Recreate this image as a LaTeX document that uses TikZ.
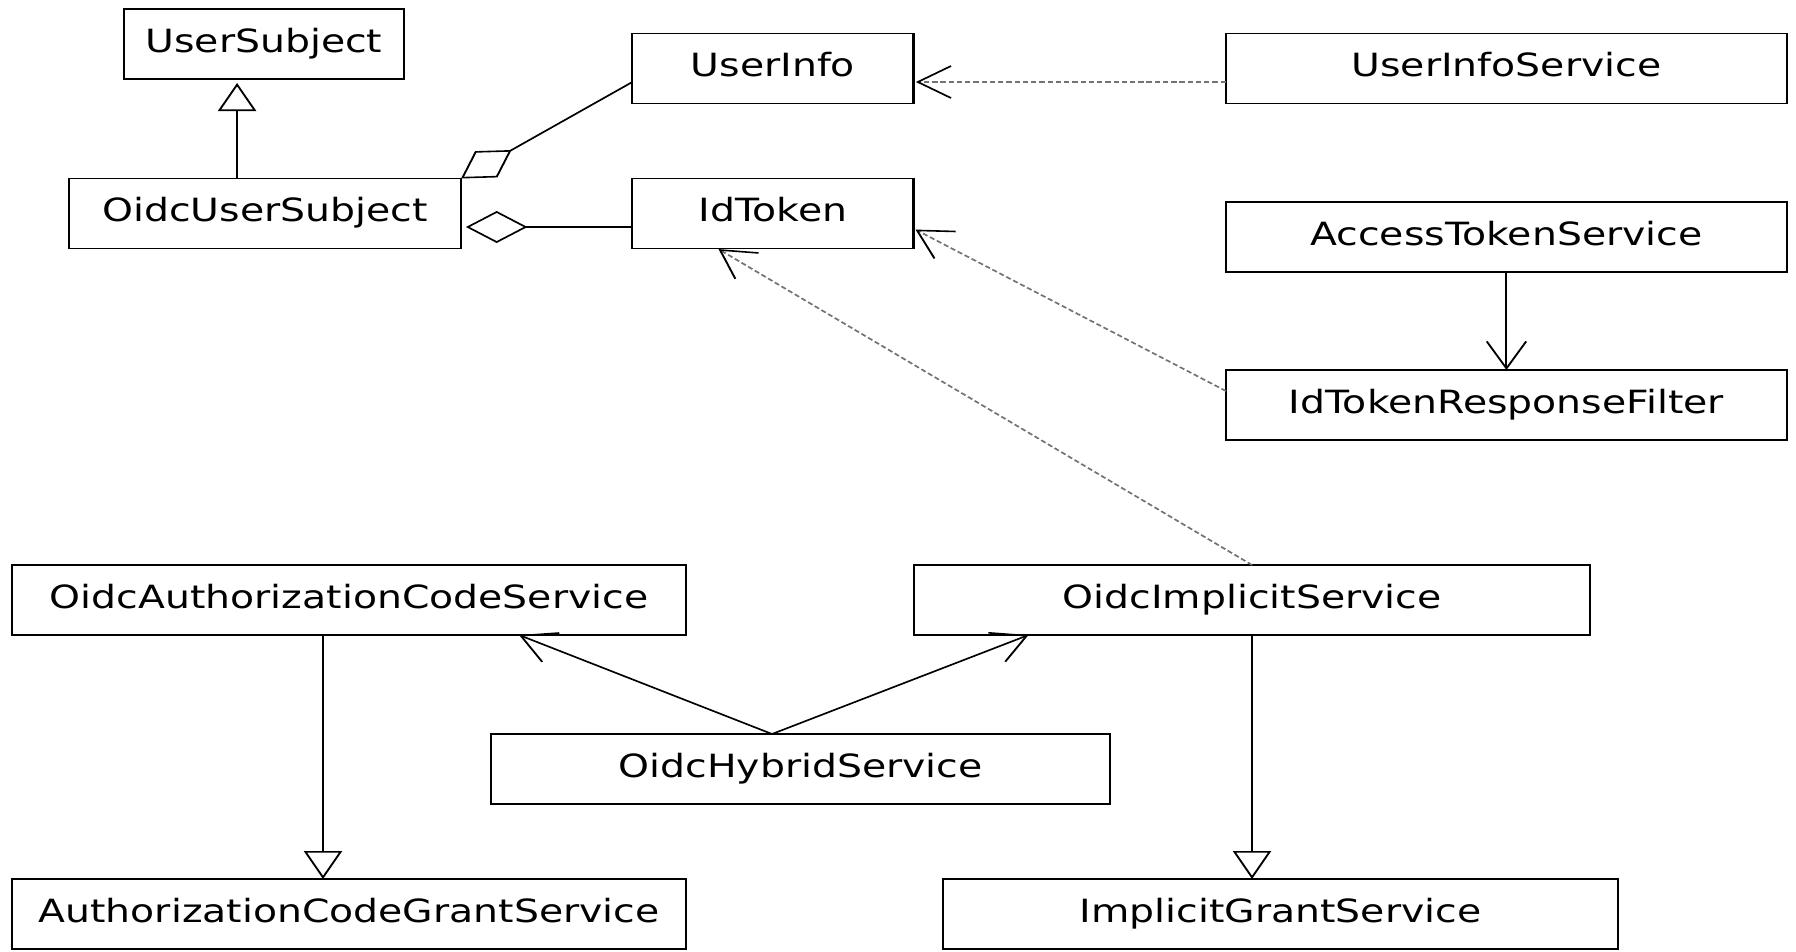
\documentclass[tikz,border=0pt]{standalone}
\usepackage{fontspec}
\setmainfont{DejaVu Sans}
\usetikzlibrary{arrows.meta}

\tikzset{
  cls/.style={draw, rectangle, line width=1.8pt, anchor=north west,
    minimum height=70pt, inner sep=0pt, outer sep=0pt,
    font=\fontsize{32}{38}\selectfont, text height=24.3pt, text depth=7.7pt},
  gen/.style={line width=1.6pt,
    -{Triangle[open, length=28pt, width=31pt, line width=1.6pt]}},
  assoc/.style={line width=1.6pt,
    -{Straight Barb[length=27pt, width=32pt, line width=1.6pt]}},
  dep/.style={line width=1.6pt, black!55, dash pattern=on 4.3pt off 2.4pt,
    -{Straight Barb[length=27pt, width=32pt, line width=1.6pt, color=black]}},
  agg/.style={line width=1.6pt,
    -{Diamond[open, length=50pt, width=32pt, line width=1.6pt]}},
}

\begin{document}
\begin{tikzpicture}[x=1pt, y=-1pt]
\useasboundingbox (0,0) rectangle (1796,951);
\begin{scope}[transform canvas={xscale=1.23}]
  % classes
  \node[cls, minimum width=227.6pt] (us)   at (100.8,9)   {UserSubject};
  \node[cls, minimum width=228.5pt] (ui)   at (514.1,33.5) {UserInfo};
  \node[cls, minimum width=456.1pt] (uis)  at (996.7,33.5) {UserInfoService};
  \node[cls, minimum width=318.7pt] (ous)  at (56.1,178.5) {OidcUserSubject};
  \node[cls, minimum width=228.5pt] (idt)  at (514.1,178.5) {IdToken};
  \node[cls, minimum width=456.1pt] (ats)  at (996.7,202) {AccessTokenService};
  \node[cls, minimum width=456.1pt] (itrf) at (996.7,370) {IdTokenResponseFilter};
  \node[cls, minimum width=548pt]   (oacs) at (9.8,565)   {OidcAuthorizationCodeService};
  \node[cls, minimum width=549.6pt] (ois)  at (743.1,565) {OidcImplicitService};
  \node[cls, minimum width=503.3pt] (ohs)  at (399.2,734) {OidcHybridService};
  \node[cls, minimum width=548pt]   (acgs) at (9.8,879)   {AuthorizationCodeGrantService};
  \node[cls, minimum width=548.8pt] (igs)  at (766.7,879) {ImplicitGrantService};

  % generalisations
  \coordinate (g1) at ([xshift=-22.7pt]ous.north);
  \draw[gen, shorten >=4pt] (g1) -- (g1 |- us.south);
  \coordinate (g2) at ([xshift=-21.2pt]oacs.south);
  \draw[gen] (g2) -- (g2 |- acgs.north);
  \draw[gen] (ois.south) -- (ois.south |- igs.north);

  % aggregations
  \draw[agg] ([yshift=-13.5pt]ui.west) -- (ous.north east);
  \draw[agg, shorten >=4pt] ([yshift=-13.5pt]idt.west) -- ([yshift=-13.5pt]ous.east);

  % dependencies
  \draw[dep, shorten >=2pt] ([yshift=-13.5pt]uis.west) -- ([yshift=-13.5pt]ui.east);
  \draw[dep, shorten >=2pt] ([yshift=14pt]itrf.west) -- ([yshift=-15pt]idt.east);
  \draw[dep, shorten >=1pt] (ois.north) -- ([xshift=-45pt]idt.south);

  % associations
  \draw[assoc] (ats.south) -- (itrf.north);
  \coordinate (h) at ([xshift=-23.2pt]ohs.north);
  \draw[assoc] (h) -- ([xshift=138.2pt]oacs.south);
  \draw[assoc] (h) -- ([xshift=-181.7pt]ois.south);
\end{scope}
\end{tikzpicture}
\end{document}
